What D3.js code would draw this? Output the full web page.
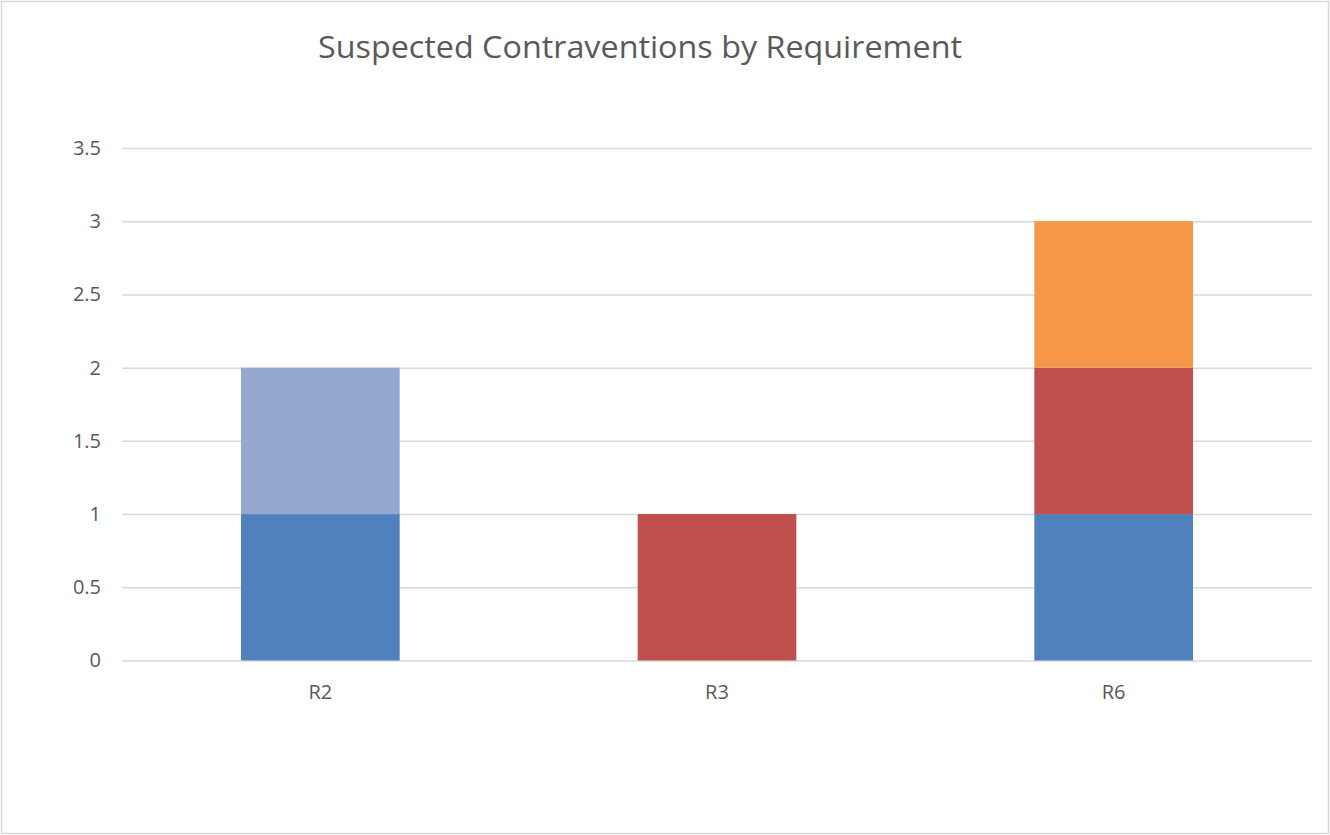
<!DOCTYPE html>
<html>
<head>
<meta charset="utf-8">
<script src="https://cdn.jsdelivr.net/npm/d3@7"></script>
<style>
  html, body { margin: 0; padding: 0; background: #fff; }
  svg { display: block; }
</style>
</head>
<body>
<svg id="chart" width="1330" height="835"></svg>
<script>
// Requirements on the category axis
const categories = ["R2", "R3", "R6"];

// Stacked series, bottom to top
const seriesNames = ["Series A", "Series B", "Series C", "Series D"];
const seriesA = [1, 0, 1];
const seriesB = [0, 1, 1];
const seriesC = [0, 0, 1];
const seriesD = [1, 0, 0];
const seriesColors = ["#4F81BD", "#C0504D", "#F79646", "#95A9D0"];

const yTicks = [0, 0.5, 1, 1.5, 2, 2.5, 3, 3.5];
const yMax = 3.5;

const chartTitle = "Suspected Contraventions by Requirement";

const W = 1330, H = 835;
const plot = { left: 122, right: 1312, top: 148, bottom: 660.5 };
const fontStack = "'Open Sans', 'Liberation Sans', sans-serif";

const svg = d3.select("#chart");

// outer chart frame
svg.append("rect")
  .attr("x", 1.5).attr("y", 1.5)
  .attr("width", W - 3).attr("height", H - 3)
  .attr("fill", "#fff")
  .attr("stroke", "#d9d9d9").attr("stroke-width", 1.5);

const x = d3.scaleBand()
  .domain(categories)
  .range([plot.left, plot.right])
  .paddingInner(0.6)
  .paddingOuter(0.3);

const y = d3.scaleLinear()
  .domain([0, yMax])
  .range([plot.bottom, plot.top]);

// value axis with gridlines
const yAxis = d3.axisLeft(y)
  .tickValues(yTicks)
  .tickSize(-(plot.right - plot.left))
  .tickPadding(21)
  .tickFormat(d3.format("~g"));

const gy = svg.append("g")
  .attr("transform", `translate(${plot.left},0)`)
  .call(yAxis);
gy.select(".domain").remove();
gy.selectAll(".tick line")
  .attr("stroke", "#d9d9d9")
  .attr("stroke-width", 1.5);
gy.selectAll(".tick text")
  .attr("fill", "#595959")
  .style("font-family", fontStack)
  .style("font-size", "20px");

// stacked bars
const table = categories.map((c, i) => ({
  category: c,
  "Series A": seriesA[i],
  "Series B": seriesB[i],
  "Series C": seriesC[i],
  "Series D": seriesD[i]
}));
const stacked = d3.stack().keys(seriesNames)(table);

svg.append("g")
  .selectAll("g")
  .data(stacked)
  .join("g")
  .attr("fill", (d, i) => seriesColors[i])
  .selectAll("rect")
  .data(d => d.filter(p => p[1] - p[0] > 0))
  .join("rect")
  .attr("x", d => x(d.data.category))
  .attr("y", d => y(d[1]))
  .attr("width", x.bandwidth())
  .attr("height", d => y(d[0]) - y(d[1]));

// category axis labels
const xAxis = d3.axisBottom(x).tickSize(0).tickPadding(24);
const gx = svg.append("g")
  .attr("transform", `translate(0,${plot.bottom})`)
  .call(xAxis);
gx.select(".domain").remove();
gx.selectAll(".tick text")
  .attr("fill", "#595959")
  .style("font-family", fontStack)
  .style("font-size", "20px");

// title
svg.append("text")
  .attr("x", 640)
  .attr("y", 58)
  .attr("text-anchor", "middle")
  .attr("fill", "#595959")
  .style("font-family", fontStack)
  .style("font-size", "31px")
  .attr("textLength", 644)
  .attr("lengthAdjust", "spacingAndGlyphs")
  .text(chartTitle);
</script>
</body>
</html>
